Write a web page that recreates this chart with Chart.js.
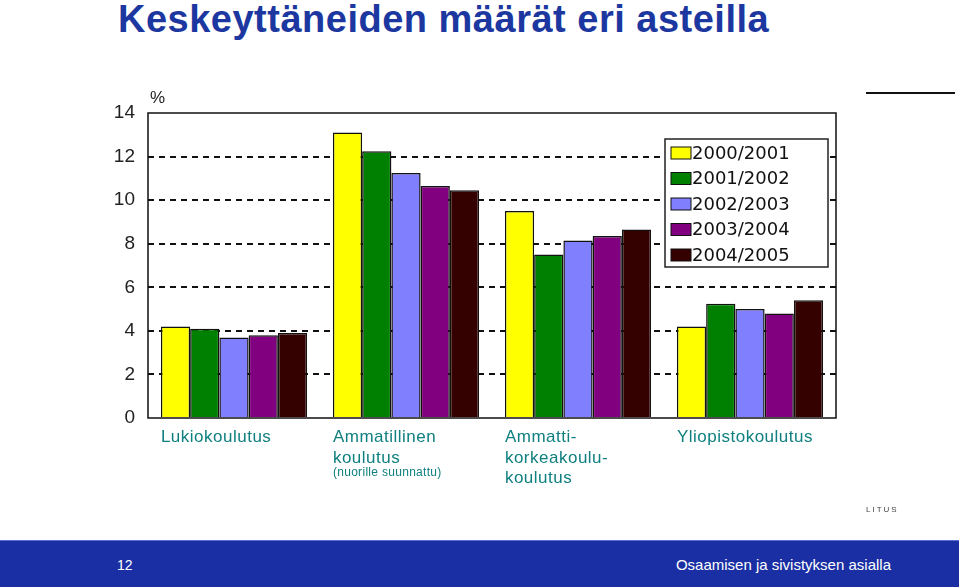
<!DOCTYPE html>
<html lang="fi">
<head>
<meta charset="utf-8">
<title>Keskeyttäneiden määrät eri asteilla</title>
<script src="https://cdn.jsdelivr.net/npm/chart.js@4/dist/chart.umd.min.js"></script>
<style>
    html, body { margin: 0; padding: 0; background: #fff; }
    body { width: 959px; height: 588px; position: relative; overflow: hidden; font-family: "Liberation Sans", Arial, sans-serif; }
    #title { position: absolute; left: 118px; top: -2px; margin: 0; font-size: 38px; letter-spacing: 0.5px; font-weight: bold; color: #1c38a0; white-space: nowrap; }
    #chartBox { position: absolute; left: 0; top: 0; width: 959px; height: 530px; }
    #topLine { position: absolute; left: 866px; top: 92px; width: 89px; height: 2px; background: #111; }
    #litus { position: absolute; left: 866px; top: 505px; font-size: 8px; letter-spacing: 2px; color: #444; }
    #footer { position: absolute; left: 0; top: 540px; width: 959px; height: 46px; background: #1a2fa3; border-top: 1px solid #5a6fd0; color: #fff; }
    #pageNo { position: absolute; left: 117px; top: 16px; font-size: 14px; }
    #footText { position: absolute; right: 68px; top: 15px; font-size: 15px; }
</style>
</head>
<body>
<h1 id="title">Keskeyttäneiden määrät eri asteilla</h1>
<div id="topLine"></div>
<div id="chartBox"><canvas id="chart"></canvas></div>
<div id="litus">LITUS</div>
<div id="footer"><span id="pageNo">12</span><span id="footText">Osaamisen ja sivistyksen asialla</span></div>

<script>
//Koulutusasteet (x-akseli)
const categories = [
    ['Lukiokoulutus'],
    ['Ammatillinen', 'koulutus'],
    ['Ammatti-', 'korkeakoulu-', 'koulutus'],
    ['Yliopistokoulutus']
];
const categoryNotes = ['', '(nuorille suunnattu)', '', ''];

//Lukuvuodet
const years = ['2000/2001', '2001/2002', '2002/2003', '2003/2004', '2004/2005'];
const yearColors = ['#ffff00', '#008000', '#8080ff', '#800080', '#340000'];

//Keskeyttäneet % (luettu kuvasta)
const v2000 = [4.2, 13.1, 9.5, 4.2];
const v2001 = [4.1, 12.25, 7.5, 5.25];
const v2002 = [3.7, 11.25, 8.15, 5.0];
const v2003 = [3.8, 10.65, 8.35, 4.8];
const v2004 = [3.9, 10.45, 8.65, 5.4];
const seriesValues = [v2000, v2001, v2002, v2003, v2004];

//y-akselin jako
const yTicks = [0, 2, 4, 6, 8, 10, 12, 14];

const labelColor = '#0f7f7f';

//Kehys koko piirtoalueen ympärille + "%" merkki
const frame = {
    id: 'frame',
    afterDraw(chart) {
        const {ctx, chartArea: a} = chart;
        ctx.save();
        ctx.strokeStyle = '#111';
        ctx.lineWidth = 1.5;
        ctx.strokeRect(a.left, a.top, a.right - a.left, a.bottom - a.top);
        ctx.fillStyle = '#222';
        ctx.font = '17px "Liberation Sans", Arial, sans-serif';
        ctx.textBaseline = 'bottom';
        ctx.fillText('%', a.left + 2, a.top - 6);
        ctx.restore();
    }
};

//Legenda kuvan oikeaan yläkulmaan, piirtoalueen sisälle
const boxLegend = {
    id: 'boxLegend',
    afterDraw(chart) {
        const {ctx, chartArea: a} = chart;
        const w = 163, h = 128, rowH = 25.5;
        const x = a.right - 8 - w, y = a.top + 26;
        ctx.save();
        ctx.fillStyle = '#fff';
        ctx.fillRect(x, y, w, h);
        ctx.strokeStyle = '#222';
        ctx.lineWidth = 1.5;
        ctx.strokeRect(x, y, w, h);
        ctx.font = '18px "DejaVu Sans", sans-serif';
        ctx.textBaseline = 'middle';
        chart.data.datasets.forEach(function (ds, i) {
            const cy = y + 14 + i * rowH;
            ctx.fillStyle = ds.backgroundColor;
            ctx.fillRect(x + 6, cy - 6, 20, 12);
            ctx.strokeStyle = '#111';
            ctx.lineWidth = 1;
            ctx.strokeRect(x + 6, cy - 6, 20, 12);
            ctx.fillStyle = '#111';
            ctx.fillText(ds.label, x + 27, cy + 1);
        });
        ctx.restore();
    }
};

//Luokkien nimet vasemmalle tasattuina ryhmän alkuun
const catLabels = {
    id: 'catLabels',
    afterDraw(chart) {
        const {ctx, scales: {x: xs}, chartArea: a} = chart;
        const half = (xs.getPixelForValue(1) - xs.getPixelForValue(0)) * 0.85 / 2;
        ctx.save();
        ctx.fillStyle = labelColor;
        ctx.textBaseline = 'top';
        categories.forEach(function (lines, i) {
            const x0 = xs.getPixelForValue(i) - half;
            ctx.font = '17px "Liberation Sans", Arial, sans-serif';
            ctx.letterSpacing = '0.5px';
            lines.forEach(function (line, j) {
                ctx.fillText(line, x0, a.bottom + 11 + j * 20.5);
            });
            if (categoryNotes[i]) {
                ctx.font = '12px "Liberation Sans", Arial, sans-serif';
                ctx.letterSpacing = '0.3px';
                ctx.fillText(categoryNotes[i], x0, a.bottom + 11 + lines.length * 20.5 - 3);
            }
        });
        ctx.restore();
    }
};

const ctx = document.querySelector('#chart').getContext('2d');
const chart = new Chart(ctx, {
    type: 'bar',
    data: {
        labels: categories.map(c => c.join(' ')),
        datasets: years.map(function (y, i) {
            return {
                label: y,
                data: seriesValues[i],
                backgroundColor: yearColors[i],
                borderColor: '#111',
                borderWidth: 1.5,
                categoryPercentage: 0.85,
                barPercentage: 1.0
            };
        })
    },
    options: {
        responsive: true,
        maintainAspectRatio: false,
        animation: false,
        layout: {padding: {top: 113, right: 123, left: 0, bottom: 0}},
        scales: {
            x: {
                grid: {display: false},
                border: {display: false},
                ticks: {display: false},
                afterFit(scale) { scale.height = 112; }
            },
            y: {
                min: 0,
                max: 14,
                afterBuildTicks(scale) { scale.ticks = yTicks.map(v => ({value: v})); },
                afterFit(scale) { scale.width = 148; },
                border: {display: false, dash: [6, 5]},
                grid: {
                    drawTicks: false,
                    color: c => (c.tick.value === 0 || c.tick.value === 14) ? 'rgba(0,0,0,0)' : '#111',
                    lineWidth: 2
                },
                ticks: {
                    padding: 13,
                    color: '#222',
                    font: {family: '"Liberation Sans", Arial, sans-serif', size: 19}
                }
            }
        },
        plugins: {
            legend: {display: false},
            tooltip: {enabled: false},
            title: {display: false}
        }
    },
    plugins: [frame, boxLegend, catLabels]
});
</script>
</body>
</html>
